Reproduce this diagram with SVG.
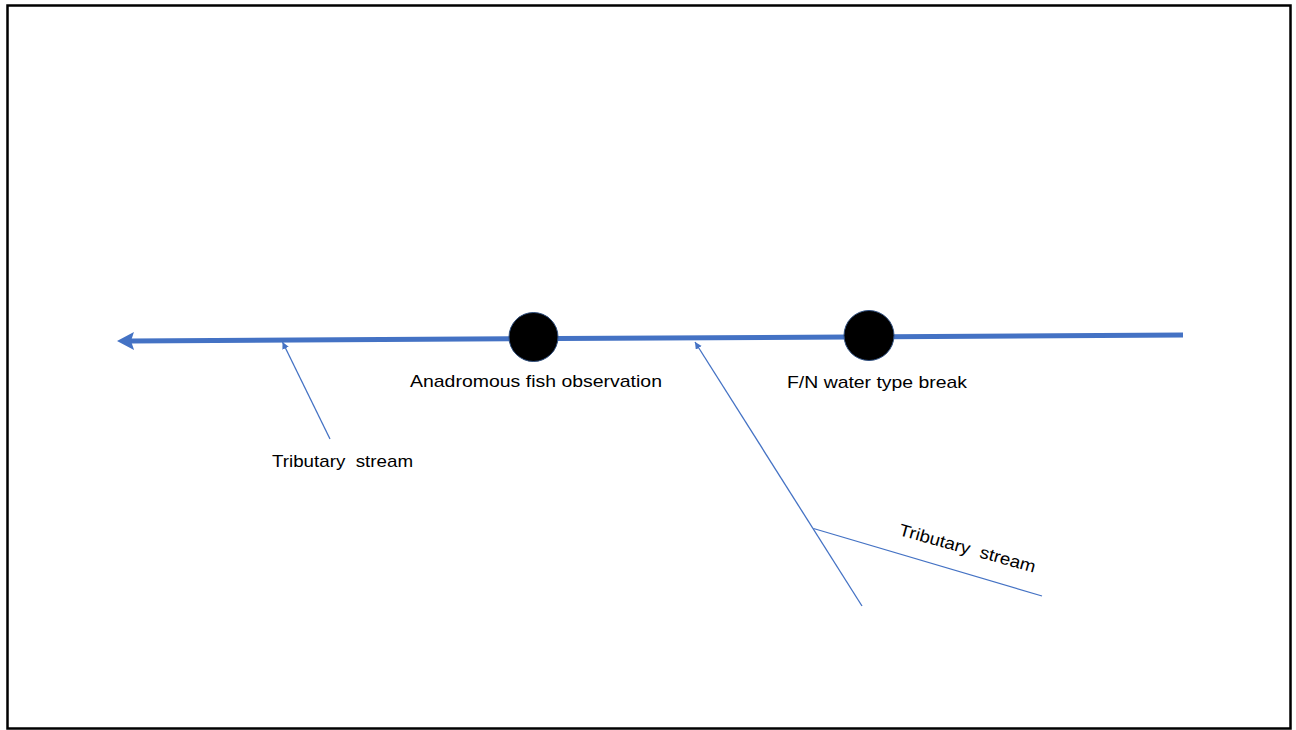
<svg xmlns="http://www.w3.org/2000/svg" width="1296" height="730" viewBox="0 0 1296 730">
<style>
.lbl{font-family:"Liberation Sans",Arial,sans-serif;font-size:17px;fill:#000;white-space:pre}
.thin{stroke:#4472C4;stroke-width:1.3;fill:none}
.node{fill:#000;stroke:#2F4F7F;stroke-width:1}
</style>
<defs>
<marker id="bigArrow" markerUnits="userSpaceOnUse" markerWidth="20" markerHeight="20" refX="3" refY="9" orient="auto">
<path d="M0,0 L17,9 L0,18 L3,9 Z" fill="#4472C4"/>
</marker>
<marker id="smallArrow" markerUnits="userSpaceOnUse" markerWidth="10" markerHeight="10" refX="7" refY="3.5" orient="auto">
<path d="M0,0 L7,3.5 L0,7 Z" fill="#4472C4"/>
</marker>
</defs>
<rect x="0" y="0" width="1296" height="730" fill="#fff"/>
<rect x="7.5" y="5.5" width="1283" height="723" fill="none" stroke="#000" stroke-width="2.5"/>
<g id="connectors">
<path d="M1183,335 L131,341" stroke="#4472C4" stroke-width="5" fill="none" marker-end="url(#bigArrow)"/>
<path class="thin" d="M330,439 L282.5,342" marker-end="url(#smallArrow)"/>
<path class="thin" d="M862,606 L695,342" marker-end="url(#smallArrow)"/>
<path class="thin" d="M813.5,528.5 L1042,596"/>
</g>
<g id="node-anadromous">
<circle class="node" cx="533.5" cy="337" r="24.5"/>
<text class="lbl" x="410" y="387" textLength="252" lengthAdjust="spacingAndGlyphs">Anadromous fish observation</text>
</g>
<g id="node-fn-break">
<circle class="node" cx="869" cy="335.5" r="25"/>
<text class="lbl" x="787" y="388" textLength="180" lengthAdjust="spacingAndGlyphs">F/N water type break</text>
</g>
<g id="label-tributary-1">
<text class="lbl" x="272" y="467" textLength="141" lengthAdjust="spacingAndGlyphs">Tributary  stream</text>
</g>
<g id="label-tributary-2">
<text class="lbl" transform="translate(898,535) rotate(15.5)" x="0" y="0" textLength="141" lengthAdjust="spacingAndGlyphs">Tributary  stream</text>
</g>
</svg>
